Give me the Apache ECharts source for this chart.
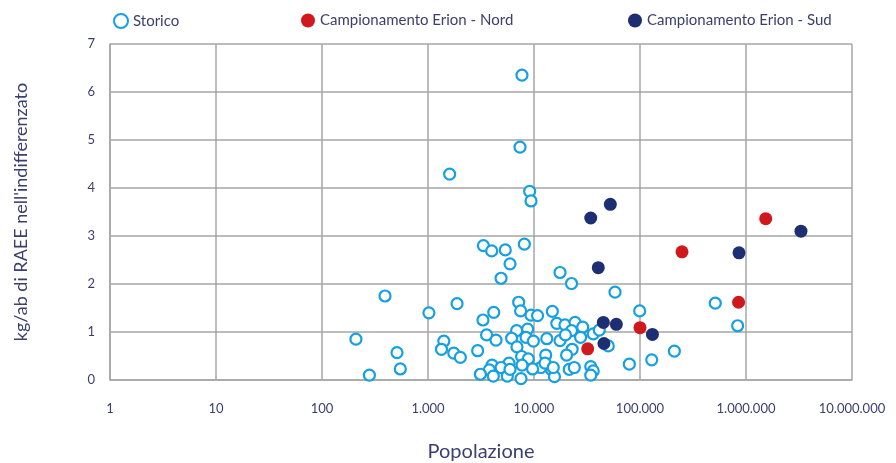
<!DOCTYPE html>
<html>
<head>
<meta charset="utf-8">
<style>
  html, body { margin: 0; padding: 0; background: #fff; }
  #chart { width: 896px; height: 463px; }
</style>
<script src="https://cdn.jsdelivr.net/npm/echarts@6/dist/echarts.min.js"></script>
</head>
<body>
<div id="chart"></div>
<script>
// dati: [popolazione, kg/ab]
const storico = [
  [7700, 6.35], [7380, 4.85], [1600, 4.29], [9100, 3.93], [9370, 3.73],
  [3330, 2.80], [3990, 2.69], [5360, 2.71], [8110, 2.83], [5940, 2.42],
  [4890, 2.12], [17600, 2.24], [22600, 2.01], [393, 1.75], [1020, 1.40],
  [1880, 1.59], [209, 0.85], [510, 0.57], [548, 0.23], [280, 0.10],
  [1410, 0.81], [1340, 0.64], [1750, 0.56], [2020, 0.47], [7170, 1.62],
  [7480, 1.44], [9370, 1.35], [10800, 1.34], [14900, 1.43], [4170, 1.41],
  [3300, 1.25], [3570, 0.94], [4380, 0.83], [6860, 1.03], [8710, 1.06],
  [6150, 0.87], [8410, 0.89], [9870, 0.81], [6910, 0.69], [13200, 0.86],
  [2940, 0.61], [12900, 0.52], [7640, 0.49], [8830, 0.44], [4020, 0.31],
  [5810, 0.35], [7710, 0.31], [11600, 0.26], [4890, 0.26], [3790, 0.21],
  [3120, 0.12], [4130, 0.08], [5600, 0.08], [5940, 0.22], [7540, 0.03],
  [9700, 0.23], [14700, 0.21], [15600, 0.07], [16400, 1.18], [58100, 1.83],
  [19600, 1.15], [24400, 1.20], [28800, 1.10], [22600, 1.03], [17600, 0.82],
  [19800, 0.94], [27500, 0.89], [36200, 0.96], [41300, 1.04], [22900, 0.64],
  [20300, 0.52], [12700, 0.35], [15200, 0.26], [21500, 0.22], [24000, 0.26],
  [34300, 0.28], [36200, 0.19], [34300, 0.10], [79300, 0.33], [50200, 0.71],
  [99300, 1.44], [129000, 0.42], [211000, 0.60], [513000, 1.60], [834000, 1.13]
]
const erionNord = [
  [32100, 0.65], [100000, 1.09], [249000, 2.67], [851000, 1.62], [1535000, 3.36]
]
const erionSud = [
  [34300, 3.375], [52500, 3.66], [40400, 2.34], [45100, 1.20], [59800, 1.16],
  [45700, 0.76], [131000, 0.95], [859000, 2.65], [3300000, 3.10]
]

const textColor = '#3b3f6e'
const font = 'Lato'

// separatore delle migliaia col punto
function fmt(v) {
  return String(Math.round(v)).replace(/\B(?=(\d{3})+(?!\d))/g, '.')
}

const chart = echarts.init(document.getElementById('chart'))
const legendText = { color: textColor, fontFamily: font, fontSize: 15 }

chart.setOption({
  animation: false,
  textStyle: { fontFamily: font },
  legend: [
    { data: ['Storico'], left: 108, top: 8, itemWidth: 14, itemHeight: 14, itemGap: 4, textStyle: legendText },
    { data: ['Campionamento Erion - Nord'], left: 296, top: 8, itemWidth: 14, itemHeight: 14, textStyle: legendText },
    { data: ['Campionamento Erion - Sud'], left: 623, top: 8, itemWidth: 14, itemHeight: 14, textStyle: legendText }
  ],
  // griglia fissa, senza adattamento ai nomi degli assi
  grid: { left: 110, right: 44, top: 44, bottom: 83, containLabel: false, outerBoundsMode: 'none' },
  xAxis: {
    type: 'log',
    logBase: 10,
    min: 1,
    max: 10000000,
    splitNumber: 7,
    name: 'Popolazione',
    nameLocation: 'middle',
    nameGap: 62,
    nameTextStyle: { color: textColor, fontSize: 20, fontFamily: font },
    axisLine: { lineStyle: { color: '#a6a6a6', width: 1.5 } },
    axisTick: { show: false },
    splitLine: { show: true, lineStyle: { color: '#a6a6a6', width: 1.5 } },
    axisLabel: { color: textColor, fontSize: 13, margin: 22, formatter: fmt }
  },
  yAxis: {
    type: 'value',
    min: 0,
    max: 7,
    interval: 1,
    name: "kg/ab di RAEE nell'indifferenzato",
    nameLocation: 'middle',
    nameGap: 80,
    nameTextStyle: { color: textColor, fontSize: 18, fontFamily: font },
    axisLine: { show: true, lineStyle: { color: '#a6a6a6', width: 1.5 } },
    axisTick: { show: false },
    splitLine: { lineStyle: { color: '#a6a6a6', width: 1.5 } },
    axisLabel: { color: textColor, fontSize: 13, margin: 15 }
  },
  series: [
    {
      name: 'Storico',
      type: 'scatter',
      data: storico,
      symbol: 'circle',
      symbolSize: 11,
      itemStyle: { color: '#ffffff', borderColor: '#14a0e2', borderWidth: 2.2, opacity: 1 }
    },
    {
      name: 'Campionamento Erion - Nord',
      type: 'scatter',
      data: erionNord,
      symbolSize: 13,
      itemStyle: { color: '#d0191e', opacity: 1 }
    },
    {
      name: 'Campionamento Erion - Sud',
      type: 'scatter',
      data: erionSud,
      symbolSize: 13,
      itemStyle: { color: '#1e2e72', opacity: 1 }
    }
  ]
})
</script>
</body>
</html>
